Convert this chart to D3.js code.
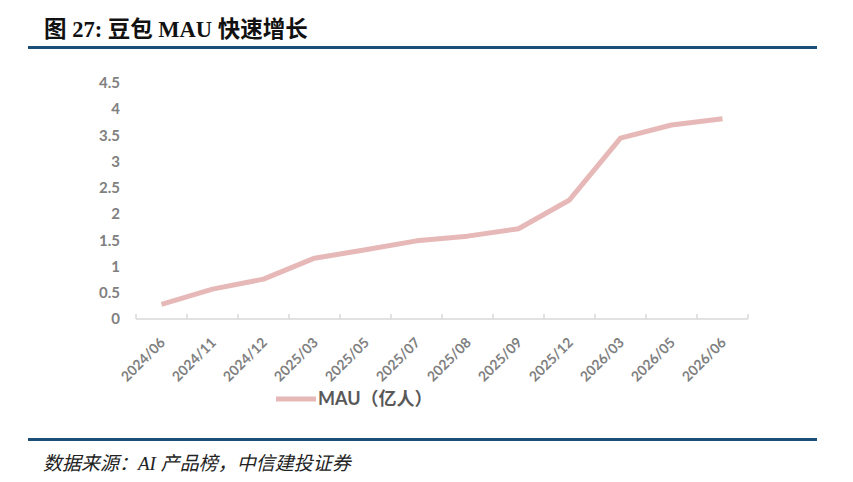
<!DOCTYPE html>
<html>
<head>
<meta charset="utf-8">
<script src="https://cdn.jsdelivr.net/npm/d3@7"></script>
<style>
  body { margin: 0; background: #fff; }
  svg { display: block; }
</style>
</head>
<body>
<svg id="chart" width="853" height="482"></svg>
<script>
// 数据：月份与 MAU（亿人）
var months = ["2024/06", "2024/11", "2024/12", "2025/03", "2025/05", "2025/07",
              "2025/08", "2025/09", "2025/12", "2026/03", "2026/05", "2026/06"];
var mau = [0.28, 0.57, 0.76, 1.16, 1.32, 1.49, 1.58, 1.72, 2.27, 3.45, 3.70, 3.82];
var yTicks = [0, 0.5, 1, 1.5, 2, 2.5, 3, 3.5, 4, 4.5];

var svg = d3.select("#chart");
var latin = "'Liberation Serif', 'Noto Sans CJK SC', serif";
var axisFont = "Lato, 'Noto Sans CJK SC', sans-serif";

// 标题与分隔线
svg.append("text")
  .attr("x", 44).attr("y", 37)
  .attr("font-family", latin)
  .attr("font-weight", "bold")
  .attr("font-size", 22.5)
  .attr("fill", "#111")
  .text("图 27:  豆包 MAU 快速增长");

svg.append("rect").attr("x", 28).attr("y", 46).attr("width", 789).attr("height", 3).attr("fill", "#1c4f78");
svg.append("rect").attr("x", 28).attr("y", 438).attr("width", 789).attr("height", 3).attr("fill", "#1c4f78");

svg.append("text")
  .attr("x", 43).attr("y", 470)
  .attr("font-family", latin)
  .attr("font-style", "italic")
  .attr("font-size", 19)
  .attr("fill", "#222")
  .text("数据来源：AI 产品榜，中信建投证券");

// 比例尺
var x = d3.scaleBand().domain(months).range([136, 748]);
var y = d3.scaleLinear().domain([0, 4.5]).range([319, 83]);

// y 轴刻度文字（无轴线）
svg.append("g").selectAll("text")
  .data(yTicks)
  .enter().append("text")
  .attr("x", 120)
  .attr("y", function (d) { return y(d); })
  .attr("dy", "0.35em")
  .attr("text-anchor", "end")
  .attr("font-family", axisFont)
  .attr("font-weight", "bold")
  .attr("font-size", 15)
  .attr("fill", "#808080")
  .text(function (d) { return d; });

// x 轴线与刻度
var xAxis = svg.append("g");
xAxis.append("line")
  .attr("x1", x.range()[0]).attr("x2", x.range()[1])
  .attr("y1", y(0)).attr("y2", y(0))
  .attr("stroke", "#d9d9d9").attr("stroke-width", 1.5);

var bounds = months.map(function (m) { return x(m); }).concat([x.range()[1]]);
xAxis.selectAll("line.tick")
  .data(bounds)
  .enter().append("line")
  .attr("class", "tick")
  .attr("x1", function (d) { return d; }).attr("x2", function (d) { return d; })
  .attr("y1", y(0) - 5).attr("y2", y(0))
  .attr("stroke", "#d9d9d9").attr("stroke-width", 1.5);

xAxis.selectAll("text")
  .data(months)
  .enter().append("text")
  .attr("transform", function (d) {
    return "translate(" + (x(d) + x.bandwidth() / 2 + 1) + "," + (y(0) + 21) + ") rotate(-45)";
  })
  .attr("dy", "0.35em")
  .attr("text-anchor", "end")
  .attr("font-family", axisFont)
  .attr("font-weight", "bold")
  .attr("font-size", 14)
  .attr("fill", "#808080")
  .text(function (d) { return d; });

// 折线
var line = d3.line()
  .x(function (d, i) { return x(months[i]) + x.bandwidth() / 2; })
  .y(function (d) { return y(d); });

svg.append("path")
  .datum(mau)
  .attr("d", line)
  .attr("fill", "none")
  .attr("stroke", "#e6b9b8")
  .attr("stroke-width", 5)
  .attr("stroke-linejoin", "round");

// 图例
svg.append("line")
  .attr("x1", 276).attr("x2", 316)
  .attr("y1", 399).attr("y2", 399)
  .attr("stroke", "#e6b9b8").attr("stroke-width", 5);

svg.append("text")
  .attr("x", 318).attr("y", 399)
  .attr("dy", "0.35em")
  .attr("font-family", axisFont)
  .attr("font-weight", "bold")
  .attr("font-size", 18)
  .attr("fill", "#595959")
  .text("MAU（亿人）");
</script>
</body>
</html>
